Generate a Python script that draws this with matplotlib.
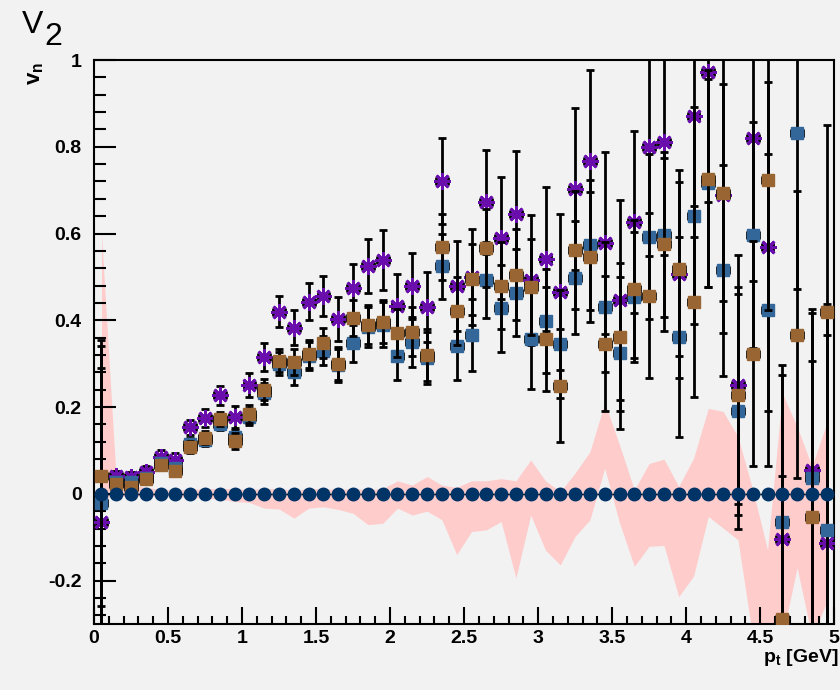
import numpy as np
import matplotlib.pyplot as plt
from matplotlib.ticker import MultipleLocator

plt.rcParams['font.family'] = ['Liberation Sans', 'DejaVu Sans']
plt.rcParams['mathtext.fontset'] = 'custom'
plt.rcParams['mathtext.rm'] = 'Liberation Sans:bold'
plt.rcParams['mathtext.it'] = 'Liberation Sans:bold'
plt.rcParams['mathtext.default'] = 'rm'

# bin centres in p_t (0.1 GeV bins)
pt = np.round(np.arange(50) * 0.1 + 0.05, 2)

# v2 values for the three particle species
v2_blue = [-0.020, 0.028, 0.028, 0.037, 0.072, 0.060, 0.115, 0.125, 0.162, 0.130,
           0.178, 0.232, 0.300, 0.280, 0.318, 0.330, 0.296, 0.347, 0.385, 0.390,
           0.317, 0.350, 0.313, 0.525, 0.341, 0.366, 0.493, 0.428, 0.464, 0.357,
           0.398, 0.346, 0.498, 0.574, 0.431, 0.325, 0.454, 0.593, 0.597, 0.361,
           0.641, 0.716, 0.515, 0.190, 0.597, 0.423, -0.066, 0.832, 0.036, -0.083]
err_blue = [0.31, 0.009, 0.009, 0.010, 0.011, 0.012, 0.013, 0.015, 0.016, 0.018,
            0.020, 0.024, 0.026, 0.030, 0.032, 0.034, 0.038, 0.042, 0.046, 0.052,
            0.055, 0.057, 0.060, 0.075, 0.078, 0.082, 0.088, 0.100, 0.100, 0.115,
            0.120, 0.125, 0.130, 0.150, 0.150, 0.175, 0.150, 0.190, 0.190, 0.230,
            0.250, 0.240, 0.244, 0.270, 0.260, 0.360, 0.340, 0.360, 0.380, 0.450]

v2_brown = [0.041, 0.023, 0.016, 0.034, 0.067, 0.053, 0.108, 0.129, 0.172, 0.122,
            0.184, 0.240, 0.307, 0.305, 0.323, 0.348, 0.300, 0.405, 0.390, 0.397,
            0.370, 0.374, 0.320, 0.569, 0.422, 0.495, 0.567, 0.480, 0.505, 0.477,
            0.357, 0.249, 0.562, 0.546, 0.346, 0.362, 0.472, 0.457, 0.575, 0.518,
            0.443, 0.726, 0.694, 0.227, 0.323, 0.723, -0.289, 0.367, -0.054, 0.420]
err_brown = [0.30, 0.009, 0.009, 0.010, 0.011, 0.012, 0.013, 0.015, 0.016, 0.018,
             0.020, 0.024, 0.026, 0.030, 0.032, 0.034, 0.038, 0.042, 0.045, 0.050,
             0.055, 0.057, 0.060, 0.075, 0.078, 0.082, 0.090, 0.100, 0.105, 0.110,
             0.120, 0.130, 0.135, 0.150, 0.155, 0.170, 0.160, 0.190, 0.200, 0.200,
             0.220, 0.250, 0.250, 0.250, 0.260, 0.300, 0.330, 0.330, 0.360, 0.430]

v2_purple = [-0.065, 0.040, 0.039, 0.051, 0.086, 0.079, 0.153, 0.175, 0.227, 0.177,
             0.251, 0.316, 0.420, 0.383, 0.443, 0.456, 0.403, 0.474, 0.525, 0.539,
             0.433, 0.479, 0.431, 0.721, 0.479, 0.500, 0.673, 0.590, 0.645, 0.493,
             0.541, 0.465, 0.703, 0.767, 0.578, 0.447, 0.627, 0.799, 0.811, 0.507,
             0.872, 0.972, 0.690, 0.251, 0.821, 0.570, -0.104, np.nan, 0.055, -0.113]
err_purple = [0.42, 0.012, 0.012, 0.013, 0.015, 0.016, 0.018, 0.020, 0.022, 0.025,
              0.027, 0.032, 0.035, 0.040, 0.043, 0.046, 0.050, 0.056, 0.062, 0.070,
              0.074, 0.076, 0.080, 0.100, 0.104, 0.110, 0.120, 0.140, 0.145, 0.150,
              0.166, 0.180, 0.186, 0.210, 0.210, 0.230, 0.210, 0.250, 0.260, 0.240,
              0.280, 0.300, 0.320, 0.300, 0.330, 0.380, 0.400, 0.400, 0.370, 0.550]

# reference (zero) points and the systematic band around them
v2_ref = [0.0] * 50
band_hi = [0.60, 0.030, 0.020, 0.015, 0.010, 0.010, 0.010, 0.012, 0.012, 0.012,
           0.010, 0.012, 0.012, 0.008, 0.012, 0.012, 0.010, 0.012, 0.010, 0.012,
           0.030, 0.020, 0.040, 0.020, 0.015, 0.030, 0.030, 0.035, 0.030, 0.078,
           0.030, 0.005, 0.048, 0.097, 0.210, 0.113, 0.009, 0.070, 0.080, 0.017,
           0.082, 0.197, 0.190, 0.132, 0.010, -0.129, 0.232, 0.155, 0.063, 0.163]
band_lo = [-0.010, -0.005, -0.005, -0.005, -0.006, -0.008, -0.008, -0.010, -0.012, -0.018,
           -0.020, -0.033, -0.035, -0.056, -0.033, -0.030, -0.036, -0.045, -0.071, -0.068,
           -0.033, -0.049, -0.040, -0.060, -0.140, -0.087, -0.083, -0.064, -0.194, -0.049,
           -0.130, -0.164, -0.098, -0.060, 0.059, -0.067, -0.167, -0.121, -0.119, -0.237,
           -0.190, -0.052, -0.079, -0.106, -0.330, -0.350, -0.330, -0.170, -0.330, -0.250]

bg = '#f2f2f2'
fig = plt.figure(figsize=(8.4, 6.9), dpi=100, facecolor=bg)
ax = fig.add_axes([0.112, 0.0957, 0.881, 0.8173])
ax.set_facecolor(bg)

# systematic band
ax.fill_between(pt, band_lo, band_hi, color='#ffcccc', lw=0, zorder=1)

# error bars first, markers on top of their own bars
bars = dict(fmt='none', ecolor='black', elinewidth=2, capsize=2.8, capthick=2, xerr=0.04)
ax.errorbar(pt, v2_purple, yerr=err_purple, zorder=2, **bars)
ax.plot(pt, v2_purple, ls='none', marker=(8, 2, 0), ms=12, mec='#6a0dad', mew=2, zorder=3)
ax.errorbar(pt, v2_blue, yerr=err_blue, zorder=3.5, **bars)
ax.plot(pt, v2_blue, ls='none', marker='s', ms=8.5, mfc='#336699', mec='#336699', zorder=4)
ax.errorbar(pt, v2_brown, yerr=err_brown, zorder=4.5, **bars)
ax.plot(pt, v2_brown, ls='none', marker='s', ms=8.5, mfc='#996633', mec='#996633', zorder=5)
ax.errorbar(pt, v2_ref, xerr=0.05, ls='none', marker='o', ms=9, mfc='#003366', mec='#003366',
            ecolor='black', elinewidth=1, zorder=6)

ax.set_xlim(0, 5)
ax.set_ylim(-0.3, 1.0)

ax.set_xticks([0, 0.5, 1, 1.5, 2, 2.5, 3, 3.5, 4, 4.5, 5])
ax.set_xticklabels(['0', '0.5', '1', '1.5', '2', '2.5', '3', '3.5', '4', '4.5', '5'])
ax.set_yticks([-0.2, 0, 0.2, 0.4, 0.6, 0.8, 1.0])
ax.set_yticklabels(['-0.2', '0', '0.2', '0.4', '0.6', '0.8', '1'])
ax.xaxis.set_minor_locator(MultipleLocator(0.1))
ax.yaxis.set_minor_locator(MultipleLocator(0.04))

ax.tick_params(which='both', direction='in', top=False, right=False, width=1.5,
               labelsize=14, colors='black')
ax.tick_params(axis='x', which='major', length=12, pad=4)
ax.tick_params(axis='x', which='minor', length=6)
ax.tick_params(axis='y', which='major', length=16, pad=9)
ax.tick_params(axis='y', which='minor', length=8.5)
for lab in ax.get_xticklabels() + ax.get_yticklabels():
    lab.set_fontweight('bold')
for sp in ax.spines.values():
    sp.set_linewidth(1.5)

# title and axis titles
fig.text(0.026, 0.952, 'V', fontsize=23, va='baseline', ha='left')
fig.text(0.053, 0.935, '2', fontsize=23, va='baseline', ha='left')
fig.text(0.042, 0.91, r'$v_n$', fontsize=16, rotation=90, ha='center', va='top')
fig.text(0.998, 0.040, r'$p_t$ [GeV]', fontsize=14, fontweight='bold', ha='right', va='baseline')

fig.savefig('out.png', dpi=100, facecolor=bg)
